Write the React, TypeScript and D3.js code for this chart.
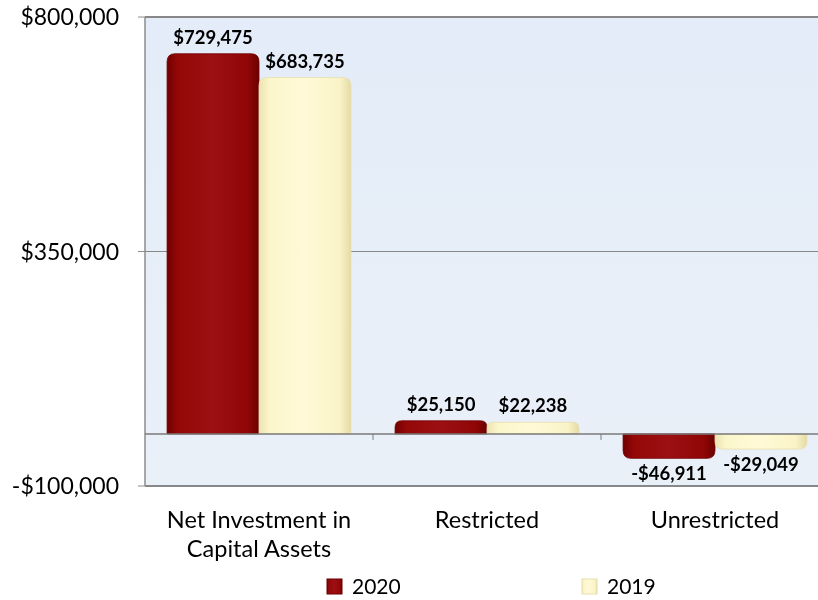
import * as d3 from "d3";

const categories = ["Net Investment in\nCapital Assets", "Restricted", "Unrestricted"];
const seriesNames = ["2020", "2019"];
const values2020 = [729475, 25150, -46911];
const values2019 = [683735, 22238, -29049];
const yTicks = [-100000, 350000, 800000];

const width = 818;
const height = 600;
const marginLeft = 145;
const plotRight = 829;
const plotTop = 17;
const plotBottom = 486;

const font = "Lato, 'Open Sans', sans-serif";

// bar with rounded corners on the end away from the baseline
function barPath(x0: number, w: number, yBase: number, yEnd: number, r: number) {
  const dir = yEnd < yBase ? 1 : -1; // 1: bar goes up
  const rr = Math.min(r, Math.abs(yBase - yEnd) / 2, w / 2);
  const p = d3.path();
  p.moveTo(x0, yBase);
  p.lineTo(x0, yEnd + dir * rr);
  p.quadraticCurveTo(x0, yEnd, x0 + rr, yEnd);
  p.lineTo(x0 + w - rr, yEnd);
  p.quadraticCurveTo(x0 + w, yEnd, x0 + w, yEnd + dir * rr);
  p.lineTo(x0 + w, yBase);
  p.closePath();
  return p.toString();
}

export default function App() {
  const x = d3.scaleBand().domain(categories).range([marginLeft, plotRight]).paddingInner(0).paddingOuter(0);
  const xs = d3.scaleBand().domain(seriesNames).range([0, x.bandwidth()]).paddingOuter(0.24).paddingInner(0);
  const y = d3.scaleLinear().domain([-100000, 800000]).range([plotBottom, plotTop]);
  const fmt = (v: number) => (v < 0 ? "-$" : "$") + d3.format(",")(Math.abs(v));

  const series = [
    { name: "2020", values: values2020, fill: "url(#gRed)", stroke: "#6e0000" },
    { name: "2019", values: values2019, fill: "url(#gCream)", stroke: "#e8dfb0" },
  ];

  return (
    <svg
      width={width}
      height={height}
      style={{ position: "fixed", left: 0, top: 0, display: "block", fontFamily: font }}
    >
      <defs>
        <linearGradient id="bg" x1="0" y1="0" x2="0" y2="1">
          <stop offset="0" stopColor="#e3ecf8" />
          <stop offset="1" stopColor="#eaf0f8" />
        </linearGradient>
        <linearGradient id="gRed" x1="0" y1="0" x2="1" y2="0">
          <stop offset="0" stopColor="#720000" />
          <stop offset="0.12" stopColor="#940808" />
          <stop offset="0.5" stopColor="#9c1014" />
          <stop offset="0.88" stopColor="#900606" />
          <stop offset="1" stopColor="#6a0000" />
        </linearGradient>
        <linearGradient id="gCream" x1="0" y1="0" x2="1" y2="0">
          <stop offset="0" stopColor="#ece3b0" />
          <stop offset="0.12" stopColor="#fcf6cc" />
          <stop offset="0.5" stopColor="#fffad6" />
          <stop offset="0.88" stopColor="#faf3c8" />
          <stop offset="1" stopColor="#e4daa6" />
        </linearGradient>
      </defs>

      {/* plot background */}
      <rect x={marginLeft} y={plotTop} width={plotRight - marginLeft} height={plotBottom - plotTop} fill="url(#bg)" />
      {/* gridlines */}
      {yTicks.map((t) => (
        <line key={t} x1={marginLeft} x2={plotRight} y1={y(t)} y2={y(t)} stroke="#888" strokeWidth={t === 350000 ? 1.2 : 1.8} />
      ))}
      {/* y axis */}
      <line x1={marginLeft} x2={marginLeft} y1={plotTop} y2={plotBottom} stroke="#8c8c8c" strokeWidth={1.5} />
      {yTicks.map((t) => (
        <g key={"t" + t}>
          <line x1={marginLeft - 7} x2={marginLeft} y1={y(t)} y2={y(t)} stroke="#8c8c8c" />
          <text x={marginLeft - 26} y={y(t)} dy="0.35em" textAnchor="end" fontSize={23} fill="#000">
            {fmt(t)}
          </text>
        </g>
      ))}

      {/* bars */}
      {series.map((s) =>
        categories.map((c, i) => {
          const v = s.values[i];
          const bx = (x(c) ?? 0) + (xs(s.name) ?? 0);
          const bw = xs.bandwidth();
          return (
            <path key={s.name + c} d={barPath(bx, bw, y(0), y(v), 8)} fill={s.fill} stroke={s.stroke} strokeWidth={0.8} />
          );
        })
      )}

      {/* zero line (category axis) */}
      <line x1={marginLeft} x2={plotRight} y1={y(0)} y2={y(0)} stroke="#7a7a7a" strokeWidth={1.5} />
      {categories.map((c, i) =>
        i > 0 ? <line key={"ct" + c} x1={x(c)} x2={x(c)} y1={y(0)} y2={y(0) + 6} stroke="#7a7a7a" /> : null
      )}

      {/* value labels */}
      {series.map((s) =>
        categories.map((c, i) => {
          const v = s.values[i];
          const cx = (x(c) ?? 0) + (xs(s.name) ?? 0) + xs.bandwidth() / 2;
          const ly = v >= 0 ? y(v) - 10 : y(v) + 22;
          return (
            <text key={"l" + s.name + c} x={cx} y={ly} textAnchor="middle" fontSize={18.5} fontWeight="bold" fill="#000">
              {fmt(v)}
            </text>
          );
        })
      )}

      {/* category labels */}
      {categories.map((c) => {
        const cx = (x(c) ?? 0) + x.bandwidth() / 2;
        return (
          <text key={"c" + c} x={cx} y={528} textAnchor="middle" fontSize={23.5} fill="#000">
            {c.split("\n").map((line, j) => (
              <tspan key={j} x={cx} dy={j === 0 ? 0 : 29}>
                {line}
              </tspan>
            ))}
          </text>
        );
      })}

      {/* legend */}
      {series.map((s, i) => {
        const lx = 327 + i * 255;
        return (
          <g key={"lg" + s.name}>
            <rect x={lx} y={579} width={15} height={15} fill={s.fill} stroke={s.stroke} />
            <text x={lx + 25} y={594} fontSize={21} fill="#000">
              {s.name}
            </text>
          </g>
        );
      })}
    </svg>
  );
}
